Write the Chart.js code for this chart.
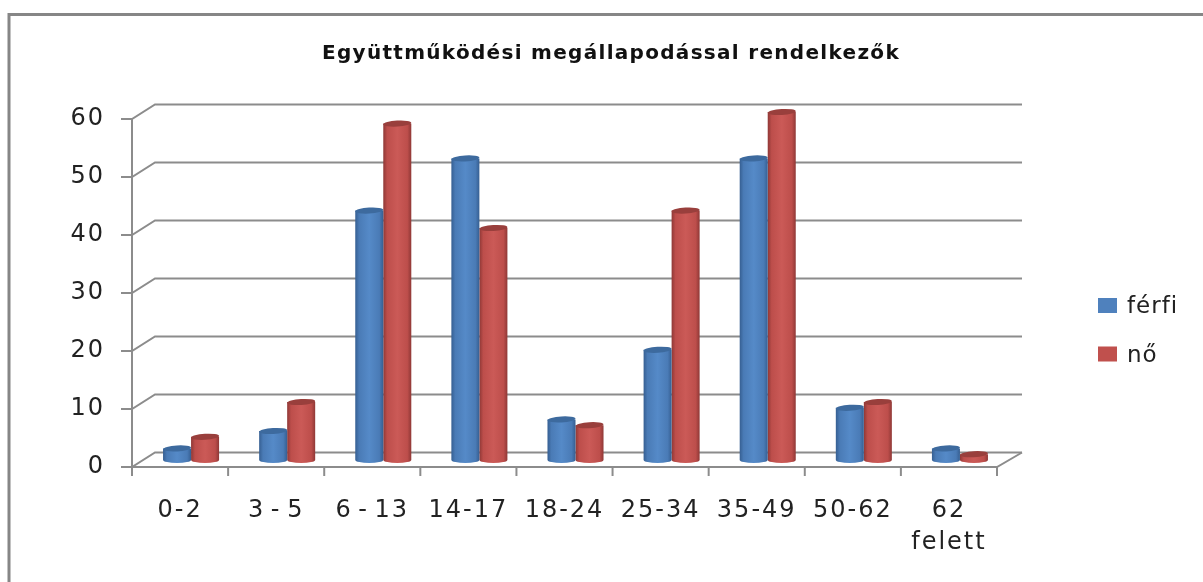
<!DOCTYPE html>
<html><head><meta charset="utf-8">
<style>html,body{margin:0;padding:0;background:#fff;overflow:hidden}#w{position:absolute;left:0;top:0;width:1203px;height:582px}canvas{filter:blur(0.5px)}</style>
<script src="https://cdn.jsdelivr.net/npm/chart.js@4"></script>
</head><body><div id="w"><canvas id="c"></canvas></div>
<script>
const categories = ['0-2','3 - 5','6 - 13','14-17','18-24','25-34','35-49','50-62',['62','felett']];
const ferfi = [2,5,43,52,7,19,52,9,2];
const no = [4,10,58,40,6,43,60,10,1];
const yTicks = [0,10,20,30,40,50,60];
const titleText = 'Együttműködési megállapodással rendelkezők';
const GRID='#8c8c8c';
const shade = {
  0:{dark:'#365f92',mid:'#4a7bb6',light:'#558ac8',top:'#3d6a9e'},
  1:{dark:'#8f3836',mid:'#bd4e4b',light:'#cb5a57',top:'#993f3c'}
};
const DX=11, DY=-7, BACKX=23, BACKY=-14.5;

const wall3d={id:'wall3d',
  beforeDraw(ch){ch.ctx.letterSpacing='2px';ch.ctx.wordSpacing='-4px';},
  beforeDatasetsDraw(ch){
    const c=ch.ctx,x=ch.scales.x,y=ch.scales.y,l=x.left,r=x.right,y0=y.getPixelForValue(0);
    c.save();c.strokeStyle=GRID;c.lineWidth=2;
    yTicks.forEach(v=>{
      const p=y.getPixelForValue(v);
      c.beginPath();c.moveTo(l-11,p);c.lineTo(l,p);c.lineTo(l+BACKX,p+BACKY);c.lineTo(r+BACKX+2,p+BACKY);c.stroke();
    });
    c.beginPath();c.moveTo(l,y.getPixelForValue(60));c.lineTo(l,y0);c.lineTo(r,y0);c.lineTo(r+BACKX+2,y0+BACKY);c.stroke();
    const w=(r-l)/categories.length;
    for(let i=0;i<=categories.length;i++){const px=l+w*i;c.beginPath();c.moveTo(px,y0);c.lineTo(px,y0+9);c.stroke();}
    c.restore();
  },
  beforeDatasetDraw(ch,args){
    const meta=args.meta,c=ch.ctx,s=shade[args.index];
    c.save();c.translate(DX,DY);
    meta.data.forEach(b=>{
      const hw=b.width/2,ry=3,x0=b.x-hw,x1=b.x+hw,top=b.y,base=b.base;
      const g=c.createLinearGradient(x0,0,x1,0);
      g.addColorStop(0,s.dark);g.addColorStop(0.14,s.mid);g.addColorStop(0.5,s.light);g.addColorStop(0.86,s.mid);g.addColorStop(1,s.dark);
      c.fillStyle=g;
      c.beginPath();c.moveTo(x0,top);c.lineTo(x0,base);c.ellipse(b.x,base,hw,ry,0,Math.PI,0,true);c.lineTo(x1,top);c.closePath();c.fill();
      c.fillStyle=s.top;c.beginPath();c.ellipse(b.x,top,hw,ry,-0.06,0,Math.PI*2);c.fill();
    });
    c.restore();
    return false;
  },
  afterDraw(ch){
    const c=ch.ctx;c.save();c.strokeStyle='#868686';c.lineWidth=3;
    c.beginPath();c.moveTo(9,582);c.lineTo(9,14.5);c.lineTo(1203,14.5);c.stroke();
    c.letterSpacing='1.3px';c.wordSpacing='0px';
    c.fillStyle='#111';c.font='bold 20px "DejaVu Sans"';c.textAlign='center';c.textBaseline='middle';
    c.fillText(titleText,611,54);
    c.textAlign='left';c.textBaseline='alphabetic';c.font='23px "DejaVu Sans"';c.letterSpacing='1px';
    ch.data.datasets.forEach((d,i)=>{
      const yy=313+i*48.5;
      c.fillStyle=d.backgroundColor;c.fillRect(1098,yy-15,19,15);
      c.fillStyle='#222';c.fillText(d.label,1127,yy);
    });
    c.restore();
  }
};
new Chart(document.getElementById('c'),{
  type:'bar',
  data:{labels:categories,datasets:[
    {label:'férfi',data:ferfi,backgroundColor:'#4f81bd',borderWidth:0,clip:false},
    {label:'nő',data:no,backgroundColor:'#c0504d',borderWidth:0,clip:false}
  ]},
  plugins:[wall3d],
  options:{
    responsive:true,maintainAspectRatio:false,animation:false,
    layout:{padding:{top:119,right:206,left:0,bottom:0}},
    datasets:{bar:{barPercentage:1,categoryPercentage:0.583}},
    scales:{
      x:{position:'bottom',grid:{display:false},border:{display:false},
        afterFit(s){s.height=582-467;},
        ticks:{color:'#222',font:{family:'"DejaVu Sans"',size:24,lineHeight:1.34},padding:20,maxRotation:0,autoSkip:false}},
      y:{min:0,max:60,grid:{display:false},border:{display:false},
        afterFit(s){s.width=132;},
        ticks:{color:'#222',font:{family:'"DejaVu Sans"',size:24},padding:19,stepSize:10}}
    },
    plugins:{title:{display:false},legend:{display:false},tooltip:{enabled:false}}
  }
});
</script></body></html>
